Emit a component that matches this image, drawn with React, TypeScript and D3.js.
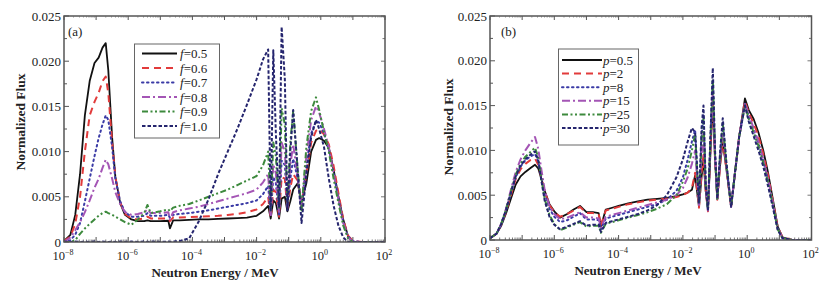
import React from "react";
import * as d3 from "d3";

// ---------- Panel (a): energy grid (log10 of MeV) ----------
const logEnergyA = [
  -8.0, -7.8, -7.65, -7.5, -7.35, -7.2, -7.05, -6.92, -6.8, -6.7, -6.62, -6.5, -6.4, -6.25, -6.1,
  -5.9, -5.7, -5.5, -5.4, -5.3, -5.0, -4.75, -4.7, -4.6, -4.4, -4.1, -3.8, -3.5, -3.2, -2.9,
  -2.6, -2.3, -2.0, -1.8, -1.64, -1.56, -1.48, -1.4, -1.3, -1.22, -1.12, -1.04, -0.95, -0.86, -0.72,
  -0.6, -0.45, -0.3, -0.15, -0.05, 0.1, 0.25, 0.4, 0.55, 0.7, 0.85, 1.0, 1.3, 2.0,
];

// flux values in units of 1e-3
const fluxA_f05 = [
  0.1, 0.8, 3.0, 7.5, 14.0, 17.8, 19.8, 20.4, 21.5, 22.0, 19.0, 11.5, 7.2, 4.3, 3.0,
  2.5, 2.3, 2.3, 2.4, 2.3, 2.3, 2.35, 1.5, 2.4, 2.4, 2.45, 2.5, 2.5, 2.55, 2.6,
  2.65, 2.7, 2.9, 3.4, 4.0, 2.6, 4.6, 4.3, 2.6, 4.8, 5.0, 3.4, 4.5, 5.8, 6.5,
  4.4, 6.5, 10.0, 11.3, 11.5, 11.2, 10.4, 8.0, 5.0, 2.5, 0.6, 0.05, 0, 0,
];
const fluxA_f06 = [
  0.1, 0.6, 2.0, 5.0, 10.0, 14.0, 15.5, 16.5, 17.8, 18.3, 16.5, 11.0, 7.2, 4.4, 3.1,
  2.6, 2.5, 2.6, 2.8, 2.6, 2.6, 2.6, 2.3, 2.7, 2.7, 2.75, 2.8, 2.85, 2.9, 3.0,
  3.1, 3.3, 3.6, 4.2, 5.0, 2.6, 5.8, 5.5, 2.8, 7.2, 7.0, 3.5, 6.0, 7.5, 6.8,
  4.4, 7.5, 11.0, 12.3, 12.5, 11.9, 10.8, 8.4, 5.4, 2.5, 0.7, 0.1, 0, 0,
];
const fluxA_f07 = [
  0.0, 0.2, 0.8, 2.1, 4.5, 7.0, 9.5, 11.5, 13.0, 14.0, 13.5, 10.5, 7.0, 4.5, 3.3,
  2.8, 2.8, 2.9, 3.2, 2.9, 2.9, 3.0, 2.7, 3.0, 3.1, 3.2, 3.35, 3.5, 3.7, 3.9,
  4.1, 4.3, 4.6, 5.3, 6.2, 2.9, 7.2, 6.5, 3.0, 9.0, 8.5, 3.8, 7.0, 9.2, 7.0,
  4.0, 8.5, 12.0, 13.4, 13.2, 12.0, 10.3, 7.6, 4.8, 2.2, 0.6, 0.1, 0, 0,
];
const fluxA_f08 = [
  0.0, 0.5, 1.3, 2.2, 3.3, 4.6, 6.0, 7.0, 8.2, 9.1, 8.6, 7.0, 5.5, 4.2, 3.3,
  3.0, 3.1, 3.3, 3.6, 3.2, 3.2, 3.3, 2.5, 3.3, 3.5, 3.7, 3.9, 4.2, 4.5, 4.8,
  5.1, 5.4, 5.8, 6.6, 7.5, 3.0, 8.6, 7.6, 3.2, 11.0, 10.0, 4.0, 8.5, 10.8, 7.2,
  3.6, 9.5, 13.5, 15.0, 14.3, 12.5, 10.5, 7.6, 4.7, 2.1, 0.5, 0.05, 0, 0,
];
const fluxA_f09 = [
  0, 0, 0.2, 0.9, 1.5, 2.0, 2.5, 2.9, 3.2, 3.35, 3.2, 3.0, 2.8, 2.5, 2.2,
  1.9, 2.5, 3.2, 4.1, 3.2, 3.4, 3.6, 3.4, 3.8, 4.0, 4.2, 4.6, 5.0, 5.4, 5.8,
  6.3, 6.8, 7.3, 8.5, 10.0, 3.5, 11.0, 9.5, 3.8, 14.8, 13.0, 4.2, 11.0, 14.5, 8.0,
  3.5, 10.5, 14.5, 16.0, 14.6, 12.2, 10.0, 7.0, 4.3, 1.8, 0.4, 0, 0, 0,
];
const fluxA_f10 = [
  0.05, 0, 0.05, 0, 0.05, 0, 0.05, 0, 0.05, 0, 0, 0.05, 0, 0.05, 0,
  0.05, 0, 0.05, 0, 0.05, 0, 0.05, 0, 0.05, 0.1, 0.4, 2.3, 4.7, 7.5, 10.0,
  12.5, 15.2, 18.0, 20.2, 21.3, 3.5, 21.2, 12.0, 3.9, 23.8, 18.0, 3.5, 10.0, 14.6, 8.0,
  2.1, 7.5, 11.6, 13.5, 12.5, 10.5, 7.0, 4.0, 1.8, 0.5, 0, 0, 0, 0,
];

// ---------- Panel (b): energy grid (log10 of MeV) ----------
const logEnergyB = [
  -8.0, -7.8, -7.65, -7.5, -7.35, -7.2, -7.05, -6.9, -6.75, -6.6, -6.5, -6.4, -6.3, -6.15, -6.0,
  -5.82, -5.6, -5.4, -5.2, -5.0, -4.8, -4.62, -4.55, -4.4, -4.2, -4.0, -3.7, -3.4, -3.1, -2.8,
  -2.5, -2.2, -2.0, -1.85, -1.72, -1.62, -1.5, -1.42, -1.36, -1.29, -1.22, -1.14, -1.07, -1.0, -0.93,
  -0.84, -0.76, -0.65, -0.5, -0.38, -0.25, -0.07, 0.05, 0.2, 0.35, 0.5, 0.65, 0.8, 0.95, 1.1,
  1.4, 2.0,
];
const fluxB_p05 = [
  0.2, 0.7, 1.6, 3.0, 4.6, 6.2, 7.1, 7.6, 8.0, 8.4, 8.0, 6.8, 5.5, 4.0, 3.2,
  2.5, 2.9, 3.4, 3.8, 3.1, 3.1, 3.0, 1.5, 3.4, 3.6, 3.8, 4.1, 4.3, 4.5, 4.6,
  4.7, 4.9, 5.1, 5.3, 5.6, 7.2, 3.7, 7.0, 9.0, 5.5, 3.3, 10.0, 15.5, 9.0, 4.6,
  8.5, 11.0, 8.0, 3.8, 7.5, 11.5, 15.8, 14.5, 13.5, 12.0, 10.0, 7.5, 4.5, 1.5, 0.3,
  0, 0,
];
const fluxB_p2 = [
  0.2, 0.7, 1.7, 3.2, 5.0, 6.8, 7.9, 8.5, 8.9, 9.1, 8.4, 6.9, 5.4, 3.9, 3.1,
  2.6, 2.9, 3.3, 3.7, 3.0, 3.0, 2.9, 1.6, 3.3, 3.5, 3.7, 4.0, 4.2, 4.4, 4.5,
  4.6, 4.8, 5.0, 5.3, 5.8, 7.5, 3.6, 7.5, 9.5, 5.5, 3.2, 10.5, 15.8, 9.0, 4.5,
  8.5, 11.3, 8.0, 3.7, 7.5, 11.5, 15.5, 14.2, 13.0, 11.6, 9.6, 7.2, 4.3, 1.4, 0.3,
  0, 0,
];
const fluxB_p8 = [
  0.2, 0.7, 1.7, 3.3, 5.2, 7.0, 8.2, 8.9, 9.3, 9.6, 8.8, 7.0, 5.2, 3.5, 2.6,
  2.0, 2.2, 2.6, 3.0, 2.3, 2.3, 2.2, 1.2, 2.4, 2.6, 2.8, 3.1, 3.4, 3.7, 4.0,
  4.5, 5.5, 7.0, 9.0, 11.0, 12.3, 4.0, 11.5, 14.0, 6.0, 3.3, 11.5, 17.5, 9.5, 4.6,
  9.5, 12.8, 8.5, 3.7, 7.5, 11.5, 15.2, 13.8, 12.3, 10.8, 8.8, 6.6, 4.0, 1.3, 0.2,
  0, 0,
];
const fluxB_p15 = [
  0.2, 0.7, 1.8, 3.5, 5.6, 7.6, 9.0, 10.0, 10.8, 11.5, 10.2, 7.8, 5.6, 3.8, 2.9,
  2.3, 2.5, 2.8, 3.1, 2.5, 2.5, 2.4, 1.4, 2.6, 2.8, 3.0, 3.3, 3.6, 3.9, 4.2,
  4.5, 5.0, 5.8, 7.0, 8.5, 10.0, 3.8, 9.5, 12.0, 5.8, 3.3, 11.0, 16.7, 9.3, 4.6,
  9.0, 12.0, 8.2, 3.7, 7.5, 11.5, 15.3, 13.9, 12.5, 11.0, 9.0, 6.8, 4.1, 1.3, 0.2,
  0, 0,
];
const fluxB_p25 = [
  0.2, 0.7, 1.8, 3.4, 5.4, 7.3, 8.5, 9.3, 9.8, 10.3, 9.2, 6.8, 4.6, 2.8, 1.8,
  1.1, 1.4, 1.7, 2.0, 1.5, 1.6, 1.6, 0.8, 1.8, 2.0, 2.2, 2.5, 2.8, 3.1, 3.5,
  4.0, 5.0, 6.5, 8.0, 10.0, 11.8, 4.0, 11.0, 13.5, 6.0, 3.4, 11.5, 18.0, 9.5, 4.6,
  9.5, 13.0, 8.5, 3.7, 7.5, 11.5, 15.0, 13.5, 12.0, 10.5, 8.6, 6.4, 3.9, 1.2, 0.2,
  0, 0,
];
const fluxB_p30 = [
  0.2, 0.7, 1.8, 3.4, 5.3, 7.1, 8.3, 9.0, 9.5, 9.9, 8.9, 6.6, 4.4, 2.6, 1.7,
  1.2, 1.5, 1.8, 2.1, 1.6, 1.7, 1.7, 0.9, 1.9, 2.1, 2.3, 2.6, 2.9, 3.3, 3.9,
  5.0, 7.0, 9.0, 11.0, 12.5, 12.0, 4.2, 12.5, 15.0, 6.2, 3.4, 12.0, 19.2, 10.0, 4.6,
  10.0, 13.6, 8.8, 3.7, 7.5, 11.5, 15.0, 13.2, 11.6, 10.0, 8.2, 6.0, 3.6, 1.1, 0.2,
  0, 0,
];

const legendA = ["0.5", "0.6", "0.7", "0.8", "0.9", "1.0"];
const legendB = ["0.5", "2", "8", "15", "25", "30"];
const yTickValues = [0, 0.005, 0.01, 0.015, 0.02, 0.025];
const yTickLabels = ["0", "0.005", "0.010", "0.015", "0.020", "0.025"];
const xTickExponents = [-8, -6, -4, -2, 0, 2];

const seriesStyles = [
  { color: "#111111", dash: "", width: 1.8, cap: "butt" },
  { color: "#e23b3b", dash: "7,5", width: 2, cap: "butt" },
  { color: "#3b3ba6", dash: "1.5,3.5", width: 2, cap: "round" },
  { color: "#a455b5", dash: "8,3,2,3", width: 2, cap: "butt" },
  { color: "#3d8a3d", dash: "6,2.5,2,2.5,2,2.5", width: 2, cap: "butt" },
  { color: "#25256e", dash: "3.5,2", width: 2, cap: "butt" },
];

const FONT = "'Liberation Serif', 'Times New Roman', serif";

type PanelProps = {
  id: string;
  x0: number;
  x1: number;
  y0: number;
  y1: number;
  logE: number[];
  series: number[][];
  legendVar: string;
  legendVals: string[];
  legend: { x0: number; x1: number; y0: number; y1: number; row0: number; rowH: number; lx0: number; lx1: number; tx: number };
  label: string;
  labelX: number;
  yLabelX: number;
  yLabelY: number;
  xLabelX: number;
};

function Panel(p: PanelProps) {
  const x = d3.scaleLog().domain([1e-8, 1e2]).range([p.x0, p.x1]);
  const y = d3.scaleLinear().domain([0, 0.025]).range([p.y0, p.y1]);
  const line = d3
    .line<[number, number]>()
    .x((d) => x(d[0]))
    .y((d) => y(d[1]));

  const minorX: number[] = [];
  for (let dd = -8; dd < 2; dd++) {
    for (let k = 2; k <= 9; k++) minorX.push(k * Math.pow(10, dd));
  }
  const majorX: number[] = [];
  for (let dd = -8; dd <= 2; dd++) majorX.push(Math.pow(10, dd));
  const minorY = [0.0025, 0.0075, 0.0125, 0.0175, 0.0225];
  const frame = "#555";

  return (
    <g>
      <defs>
        <clipPath id={"clip" + p.id}>
          <rect x={p.x0} y={p.y1} width={p.x1 - p.x0} height={p.y0 - p.y1} />
        </clipPath>
      </defs>
      <rect x={p.x0} y={p.y1} width={p.x1 - p.x0} height={p.y0 - p.y1} fill="white" />
      {majorX.map((v, i) => (
        <g key={"mx" + i}>
          <line x1={x(v)} x2={x(v)} y1={p.y0} y2={p.y0 - 5} stroke={frame} strokeWidth={1} />
          <line x1={x(v)} x2={x(v)} y1={p.y1} y2={p.y1 + 4} stroke={frame} strokeWidth={1} />
        </g>
      ))}
      {minorX.map((v, i) => (
        <g key={"nx" + i}>
          <line x1={x(v)} x2={x(v)} y1={p.y0} y2={p.y0 - 2.5} stroke={frame} strokeWidth={0.8} />
          <line x1={x(v)} x2={x(v)} y1={p.y1} y2={p.y1 + 2} stroke={frame} strokeWidth={0.6} opacity={0.6} />
        </g>
      ))}
      {yTickValues.map((v, i) => (
        <g key={"my" + i}>
          <line x1={p.x0} x2={p.x0 + 5} y1={y(v)} y2={y(v)} stroke={frame} strokeWidth={1} />
          <line x1={p.x1} x2={p.x1 - 4} y1={y(v)} y2={y(v)} stroke={frame} strokeWidth={0.8} />
        </g>
      ))}
      {minorY.map((v, i) => (
        <g key={"ny" + i}>
          <line x1={p.x0} x2={p.x0 + 3} y1={y(v)} y2={y(v)} stroke={frame} strokeWidth={1} />
          <line x1={p.x1} x2={p.x1 - 2.5} y1={y(v)} y2={y(v)} stroke={frame} strokeWidth={0.8} />
        </g>
      ))}
      <g clipPath={`url(#clip${p.id})`}>
        {p.series.map((vals, si) => {
          const pts: [number, number][] = p.logE.map((le, i) => [Math.pow(10, le), vals[i] / 1000]);
          const st = seriesStyles[si];
          return (
            <path
              key={si}
              d={line(pts) || ""}
              fill="none"
              stroke={st.color}
              strokeWidth={st.width}
              strokeDasharray={st.dash || undefined}
              strokeLinecap={st.cap as any}
              strokeLinejoin="round"
            />
          );
        })}
      </g>
      <rect x={p.x0} y={p.y1} width={p.x1 - p.x0} height={p.y0 - p.y1} fill="none" stroke={frame} strokeWidth={1.5} />
      {yTickValues.map((v, i) => (
        <text key={"yl" + i} x={p.x0 - 3} y={y(v) + 4.5} textAnchor="end" fontFamily={FONT} fontSize={13} fill="#222">
          {yTickLabels[i]}
        </text>
      ))}
      {xTickExponents.map((e, i) => (
        <text key={"xl" + i} x={x(Math.pow(10, e)) - 1} y={p.y0 + 18} textAnchor="middle" fontFamily={FONT} fontSize={12.5} fill="#222">
          10
          <tspan dy={-5} fontSize={8}>
            {e < 0 ? "\u2212" + Math.abs(e) : String(e)}
          </tspan>
        </text>
      ))}
      <text
        transform={`translate(${p.yLabelX},${p.yLabelY}) rotate(-90)`}
        textAnchor="middle"
        fontFamily={FONT}
        fontWeight="bold"
        fontSize={13.5}
        fill="#222"
      >
        Normalized Flux
      </text>
      <text x={p.xLabelX} y={p.y0 + 34.5} textAnchor="middle" fontFamily={FONT} fontWeight="bold" fontSize={13} fill="#222">
        Neutron Energy / MeV
      </text>
      <text x={p.labelX} y={p.y1 + 20} fontFamily={FONT} fontSize={13} fill="#222">
        {p.label}
      </text>
      <rect
        x={p.legend.x0}
        y={p.legend.y0}
        width={p.legend.x1 - p.legend.x0}
        height={p.legend.y1 - p.legend.y0}
        fill="white"
        stroke="#666"
        strokeWidth={1}
      />
      {p.legendVals.map((v, i) => {
        const st = seriesStyles[i];
        const ry = p.legend.row0 + i * p.legend.rowH;
        return (
          <g key={"lg" + i}>
            <line
              x1={p.legend.lx0}
              x2={p.legend.lx1}
              y1={ry}
              y2={ry}
              stroke={st.color}
              strokeWidth={st.width}
              strokeDasharray={st.dash || undefined}
              strokeLinecap={st.cap as any}
            />
            <text x={p.legend.tx} y={ry + 4.5} fontFamily={FONT} fontSize={13} fill="#222">
              <tspan fontStyle="italic">{p.legendVar}</tspan>={v}
            </text>
          </g>
        );
      })}
    </g>
  );
}

export default function App() {
  return (
    <div style={{ position: "fixed", left: 0, top: 0 }}>
      <svg width={838} height={287} style={{ display: "block", background: "white" }}>
        <Panel
          id="a"
          x0={64}
          x1={385}
          y0={242}
          y1={16}
          logE={logEnergyA}
          series={[fluxA_f05, fluxA_f06, fluxA_f07, fluxA_f08, fluxA_f09, fluxA_f10]}
          legendVar="f"
          legendVals={legendA}
          legend={{ x0: 134.5, x1: 219.5, y0: 44, y1: 138, row0: 53.5, rowH: 14.5, lx0: 142, lx1: 177, tx: 180 }}
          label="(a)"
          labelX={68}
          yLabelX={25}
          yLabelY={122}
          xLabelX={215}
        />
        <Panel
          id="b"
          x0={490}
          x1={811.5}
          y0={240}
          y1={16}
          logE={logEnergyB}
          series={[fluxB_p05, fluxB_p2, fluxB_p8, fluxB_p15, fluxB_p25, fluxB_p30]}
          legendVar="p"
          legendVals={legendB}
          legend={{ x0: 558.5, x1: 638.5, y0: 49, y1: 145, row0: 60, rowH: 13.6, lx0: 562, lx1: 602, tx: 603 }}
          label="(b)"
          labelX={501}
          yLabelX={453}
          yLabelY={127}
          xLabelX={638}
        />
      </svg>
    </div>
  );
}
